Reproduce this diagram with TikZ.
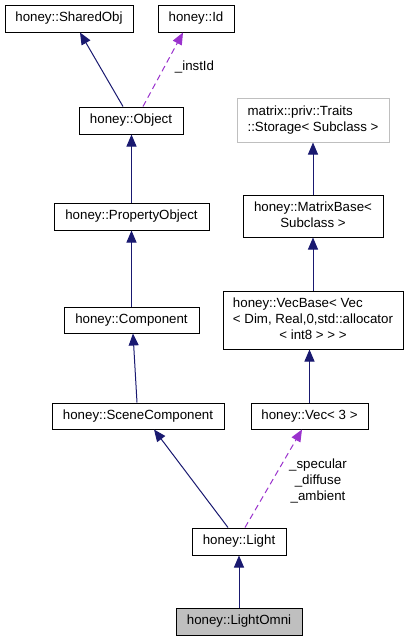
\documentclass[tikz,border=0pt]{standalone}
\usepackage{fontspec}
\setmainfont{Liberation Sans}
\usetikzlibrary{arrows.meta,calc}
\definecolor{edgeblue}{RGB}{25,25,112}
\definecolor{edgepurple}{RGB}{154,50,205}
\definecolor{boxgray}{RGB}{191,191,191}
\newcommand{\multilbl}[2]{\begin{tabular}{@{}l@{}}#1\\\multicolumn{1}{@{}c@{}}{#2}\end{tabular}}
\begin{document}
\begin{tikzpicture}[x=1pt,y=-1pt,
  cls/.style={draw=black, line width=1pt, fill=white, inner sep=0pt, font=\fontsize{13.3}{16}\selectfont, text=black},
  one/.style={text height=9.6pt, text depth=2.8pt},
  ext/.style={cls, draw=boxgray},
  cur/.style={cls, fill=boxgray},
  inh/.style={draw=edgeblue, line width=1pt, -{Triangle[length=12pt,width=10pt]}, color=edgeblue},
  use/.style={draw=edgepurple, line width=1pt, dash pattern=on 6pt off 4pt, -{Triangle[length=12pt,width=10pt]}, color=edgepurple},
  lbl/.style={font=\fontsize{13.3}{16}\selectfont, inner sep=0pt, align=center, text=black}
]
\useasboundingbox (0,0) rectangle (409,643);

\node[cls,one,minimum width=128pt,minimum height=27pt] (shared) at (69,18.5) {honey::SharedObj};
\node[cls,one,minimum width=76pt,minimum height=27pt] (id) at (196,18.5) {honey::Id};
\node[cls,one,minimum width=104pt,minimum height=27pt] (obj) at (131,120.5) {honey::Object};
\node[cls,one,minimum width=155pt,minimum height=27pt] (prop) at (131.5,216.5) {honey::PropertyObject};
\node[cls,one,minimum width=135pt,minimum height=26pt] (comp) at (131.5,320) {honey::Component};
\node[cls,one,minimum width=172pt,minimum height=26pt] (scene) at (138,416) {honey::SceneComponent};
\node[cls,one,minimum width=94pt,minimum height=27pt] (light) at (239,541.5) {honey::Light};
\node[cur,one,minimum width=126pt,minimum height=27pt] (omni) at (239,621.5) {honey::LightOmni};

\node[ext,minimum width=152pt,minimum height=44pt] (stor) at (313,120) {\multilbl{matrix::priv::Traits}{::Storage< Subclass >}};
\node[cls,minimum width=140pt,minimum height=42pt] (mb) at (313,216) {\multilbl{honey::MatrixBase<}{Subclass >}};
\node[cls,minimum width=180pt,minimum height=58pt] (vb) at (313,320) {\begin{tabular}{@{}l@{}}honey::VecBase< Vec\\< Dim, Real,0,std::allocator\\\multicolumn{1}{@{}c@{}}{< int8 > > >}\end{tabular}};
\node[cls,one,minimum width=117pt,minimum height=26pt] (vec) at (309.5,416) {honey::Vec< 3 >};

\node[lbl] (lblinst) at (194.5,67) {\_instId};
\node[lbl] (lblvec) at (318,481) {\_specular\\\_diffuse\\\_ambient};

\draw[inh] ($(obj.north)+(-8,0)$) -- ($(shared.south)+(11,0)$);
\draw[use] ($(obj.north)+(12,0)$) -- ($(id.south)+(-13,0)$);
\draw[inh] (prop.north) -- (prop.north |- obj.south);
\draw[inh] (comp.north) -- (comp.north |- prop.south);
\draw[inh] ($(scene.north)+(-1,0)$) -- ($(comp.south)+(1.5,0)$);
\draw[inh] ($(light.north)+(-11,0)$) -- ($(scene.south)+(16,0)$);
\draw[use] ($(light.north)+(6,0)$) -- ($(vec.south)+(-7.5,0)$);
\draw[inh] (omni.north) -- (light.south);
\draw[inh] (mb.north) -- (stor.south);
\draw[inh] (vb.north) -- (mb.south);
\draw[inh] (vec.north) -- (vec.north |- vb.south);
\end{tikzpicture}
\end{document}
